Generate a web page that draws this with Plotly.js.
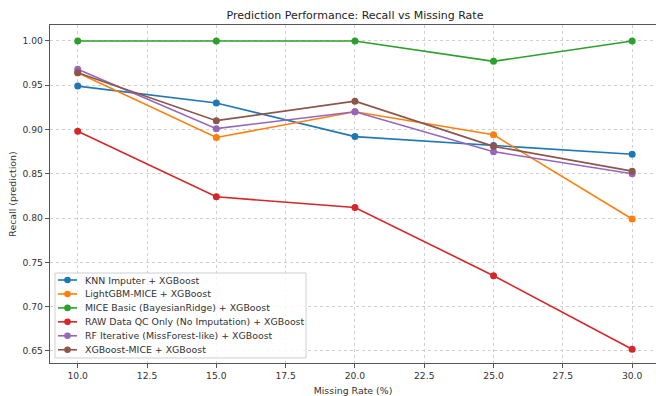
<!DOCTYPE html>
<html>
<head>
<meta charset="utf-8">
<script src="https://cdn.plot.ly/plotly-3.0.1.min.js"></script>
<style>html,body{margin:0;padding:0;background:#fff;}#chart{width:656px;height:396px;}</style>
</head>
<body>
<div id="chart"></div>
<script>
const missingRate = [10, 15, 20, 25, 30];
const seriesNames = [
  "KNN Imputer + XGBoost",
  "LightGBM-MICE + XGBoost",
  "MICE Basic (BayesianRidge) + XGBoost",
  "RAW Data QC Only (No Imputation) + XGBoost",
  "RF Iterative (MissForest-like) + XGBoost",
  "XGBoost-MICE + XGBoost"
];
const knn      = [0.949, 0.930, 0.892, 0.882, 0.872];
const lgbmMice = [0.964, 0.891, 0.920, 0.894, 0.799];
const miceBasic= [1.000, 1.000, 1.000, 0.977, 1.000];
const rawQc    = [0.898, 0.824, 0.812, 0.735, 0.652];
const rfIter   = [0.968, 0.901, 0.920, 0.875, 0.850];
const xgbMice  = [0.964, 0.910, 0.932, 0.881, 0.853];
const seriesValues = [knn, lgbmMice, miceBasic, rawQc, rfIter, xgbMice];
const xTickVals = [10, 12.5, 15, 17.5, 20, 22.5, 25, 27.5, 30];
const xTickText = ["10.0", "12.5", "15.0", "17.5", "20.0", "22.5", "25.0", "27.5", "30.0"];
const yTickVals = [0.65, 0.70, 0.75, 0.80, 0.85, 0.90, 0.95, 1.00];
const yTickText = ["0.65", "0.70", "0.75", "0.80", "0.85", "0.90", "0.95", "1.00"];
const colors = ["#1f77b4", "#ff7f0e", "#2ca02c", "#d62728", "#9467bd", "#8c564b"];

const W = 656, H = 396;
const M = {l: 50, r: 0, t: 25, b: 33};
const PW = W - M.l - M.r, PH = H - M.t - M.b;
const px = v => (v - M.l) / PW;          // pixel x -> paper x
const py = v => (H - M.b - v) / PH;      // pixel y -> paper y

const traces = seriesNames.map((name, i) => ({
  x: missingRate,
  y: seriesValues[i],
  name: name,
  type: "scatter",
  mode: "lines+markers",
  line: {color: colors[i], width: 1.6},
  marker: {color: colors[i], size: 7},
  showlegend: false
}));

const font = "DejaVu Sans, sans-serif";

// custom legend (matplotlib-like compact spacing)
const shapes = [];
const annotations = [];
const legBox = {x0: 55, x1: 306, y0: 273, y1: 358};
shapes.push({type: "rect", xref: "paper", yref: "paper", layer: "above",
  x0: px(legBox.x0), x1: px(legBox.x1), y0: py(legBox.y1), y1: py(legBox.y0),
  line: {color: "#cfcfcf", width: 1}, fillcolor: "rgba(255,255,255,0.85)"});
seriesNames.forEach((name, i) => {
  const yc = 280 + i * 13.95;
  shapes.push({type: "line", xref: "paper", yref: "paper", layer: "above",
    x0: px(58), x1: px(77), y0: py(yc), y1: py(yc),
    line: {color: colors[i], width: 1.6}});
  shapes.push({type: "circle", xref: "paper", yref: "paper", layer: "above",
    xsizemode: "pixel", ysizemode: "pixel", xanchor: px(67.5), yanchor: py(yc),
    x0: -3.3, x1: 3.3, y0: -3.3, y1: 3.3,
    fillcolor: colors[i], line: {color: colors[i], width: 0}});
  annotations.push({xref: "paper", yref: "paper", x: px(83), y: py(yc),
    xanchor: "left", yanchor: "middle", showarrow: false, text: name,
    font: {family: font, size: 9.4, color: "#333"}});
});

const layout = {
  width: W, height: H,
  margin: M,
  paper_bgcolor: "#fff", plot_bgcolor: "#fff",
  font: {family: font, size: 9.2, color: "#333"},
  title: {text: "Prediction Performance: Recall vs Missing Rate", font: {family: font, size: 11, color: "#222"}, xref: "container", x: 355 / W, xanchor: "center", yref: "container", y: 1 - 15 / H, yanchor: "middle"},
  xaxis: {
    range: [9, 30.86],
    tickvals: xTickVals, ticktext: xTickText,
    showline: true, linecolor: "#555", linewidth: 1.2, mirror: true,
    ticks: "outside", ticklen: 4, tickcolor: "#555",
    showgrid: true, gridcolor: "#d0d0d0", griddash: "dot", gridwidth: 1,
    zeroline: false,
    title: {text: "Missing Rate (%)", font: {family: font, size: 9.4, color: "#333"}, standoff: 7}
  },
  yaxis: {
    range: [0.6364, 1.018],
    tickvals: yTickVals, ticktext: yTickText,
    showline: true, linecolor: "#555", linewidth: 1.2, mirror: false,
    ticks: "outside", ticklen: 4, tickcolor: "#555",
    showgrid: true, gridcolor: "#d0d0d0", griddash: "dot", gridwidth: 1,
    zeroline: false,
    title: {text: "Recall (prediction)", font: {family: font, size: 9.4, color: "#333"}, standoff: 4}
  },
  shapes: shapes,
  annotations: annotations,
  showlegend: false
};
Plotly.newPlot("chart", traces, layout, {staticPlot: true, displayModeBar: false});
</script>
</body>
</html>
